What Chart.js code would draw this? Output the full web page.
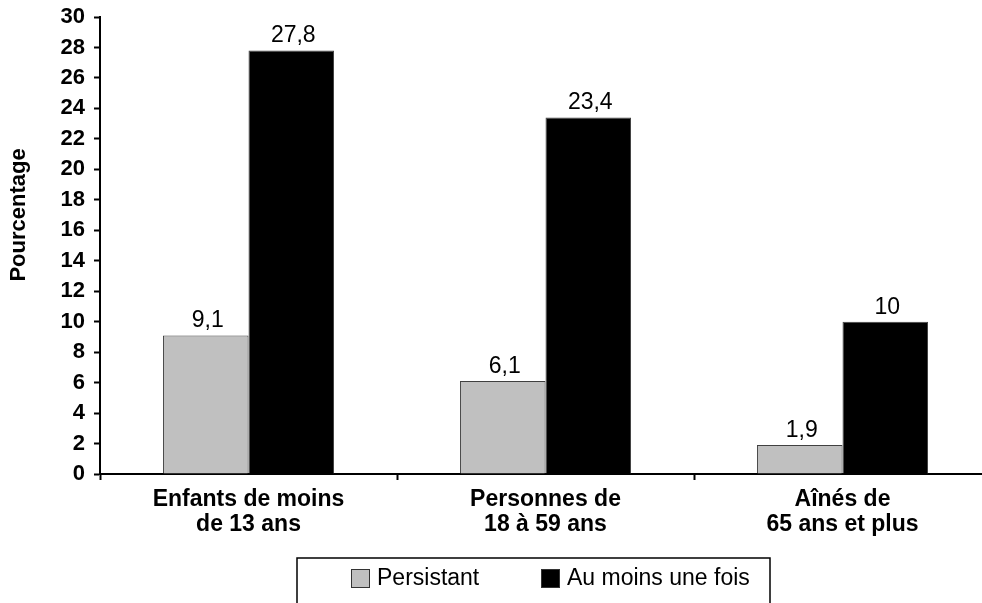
<!DOCTYPE html>
<html>
<head>
<meta charset="utf-8">
<script src="https://cdn.jsdelivr.net/npm/chart.js@4.4.0/dist/chart.umd.min.js"></script>
<style>
  html, body { margin: 0; padding: 0; background: #fff; overflow: hidden; }
  #wrap { width: 982px; height: 603px; overflow: hidden; }
  #box { width: 1000px; height: 603px; }
</style>
</head>
<body>
<div id="wrap"><div id="box"><canvas id="chart"></canvas></div></div>
<script>
// Categories (two-line labels) and series
const categories = [
    ['Enfants de moins', 'de 13 ans'],
    ['Personnes de', '18 à 59 ans'],
    ['Aînés de', '65 ans et plus']
];
const persistant = [9.1, 6.1, 1.9];
const auMoinsUneFois = [27.8, 23.4, 10];
const seriesNames = ['Persistant', 'Au moins une fois'];
const yTicks = [0, 2, 4, 6, 8, 10, 12, 14, 16, 18, 20, 22, 24, 26, 28, 30];

const FONT = 'Arial, "Liberation Sans", sans-serif';

// format numbers the french way (comma decimal)
function frNum(v) {
    return String(v).replace('.', ',');
}

// value labels above each bar
const valueLabels = {
    id: 'valueLabels',
    afterDatasetsDraw(chart) {
        const ctx = chart.ctx;
        ctx.save();
        ctx.font = '23px ' + FONT;
        ctx.fillStyle = '#000';
        ctx.textAlign = 'center';
        ctx.textBaseline = 'bottom';
        chart.data.datasets.forEach((ds, i) => {
            chart.getDatasetMeta(i).data.forEach((bar, j) => {
                ctx.fillText(frNum(ds.data[j]), bar.x + 2, bar.y - 3);
            });
        });
        ctx.restore();
    }
};

// boxed legend under the chart
const boxedLegend = {
    id: 'boxedLegend',
    afterDraw(chart) {
        const ctx = chart.ctx;
        const left = 297, top = 558, w = 473;
        ctx.save();
        ctx.strokeStyle = '#000';
        ctx.lineWidth = 1.5;
        ctx.strokeRect(left, top, w, 60);
        ctx.font = '23px ' + FONT;
        ctx.textBaseline = 'middle';
        ctx.textAlign = 'left';
        const starts = [351, 541];
        chart.data.datasets.forEach((ds, i) => {
            const x = starts[i];
            ctx.fillStyle = ds.backgroundColor;
            ctx.fillRect(x, 569, 19, 19);
            ctx.strokeStyle = '#333';
            ctx.lineWidth = 1;
            ctx.strokeRect(x + 0.5, 569.5, 18, 18);
            ctx.fillStyle = '#000';
            ctx.fillText(ds.label, x + 26, 579);
        });
        ctx.restore();
    }
};

new Chart(document.getElementById('chart'), {
    type: 'bar',
    data: {
        labels: categories,
        datasets: [
            {
                label: seriesNames[0],
                data: persistant,
                backgroundColor: '#c0c0c0',
                borderColor: '#404040',
                borderWidth: 1,
                borderSkipped: 'bottom'
            },
            {
                label: seriesNames[1],
                data: auMoinsUneFois,
                backgroundColor: '#000000',
                borderColor: '#404040',
                borderWidth: 1,
                borderSkipped: 'bottom'
            }
        ]
    },
    options: {
        responsive: true,
        maintainAspectRatio: false,
        animation: false,
        layout: { padding: { top: 17, right: 9, bottom: 0, left: 0 } },
        datasets: {
            bar: { categoryPercentage: 0.576, barPercentage: 1.0 }
        },
        plugins: {
            legend: { display: false },
            tooltip: { enabled: false }
        },
        scales: {
            x: {
                offset: true,
                grid: {
                    offset: true,
                    drawOnChartArea: false,
                    drawTicks: true,
                    tickLength: 6,
                    tickWidth: 2,
                    tickColor: '#000'
                },
                border: { color: '#000', width: 2 },
                ticks: {
                    color: '#000',
                    padding: 8,
                    maxRotation: 0,
                    font: { family: FONT, size: 23, weight: 'bold', lineHeight: 1.05 }
                },
                afterFit(scale) { scale.height = 129; }
            },
            y: {
                min: 0,
                max: 30,
                afterBuildTicks(scale) {
                    scale.ticks = yTicks.map(v => ({ value: v }));
                },
                grid: {
                    drawOnChartArea: false,
                    drawTicks: true,
                    tickLength: 6,
                    tickWidth: 2,
                    tickColor: '#000'
                },
                border: { color: '#000', width: 2 },
                ticks: {
                    color: '#000',
                    padding: 9,
                    font: { family: FONT, size: 22, weight: 'bold' }
                },
                title: {
                    display: true,
                    // leading spaces push the rotated title a bit upward, as in the original
                    text: '\u00A0'.repeat(10) + 'Pourcentage',
                    color: '#000',
                    padding: { top: 6, bottom: 0 },
                    font: { family: FONT, size: 22, weight: 'bold' }
                },
                afterFit(scale) {
                    scale.width = 100;
                    scale.paddingTop = 0;
                    scale.paddingBottom = 0;
                }
            }
        }
    },
    plugins: [valueLabels, boxedLegend]
});
</script>
</body>
</html>
